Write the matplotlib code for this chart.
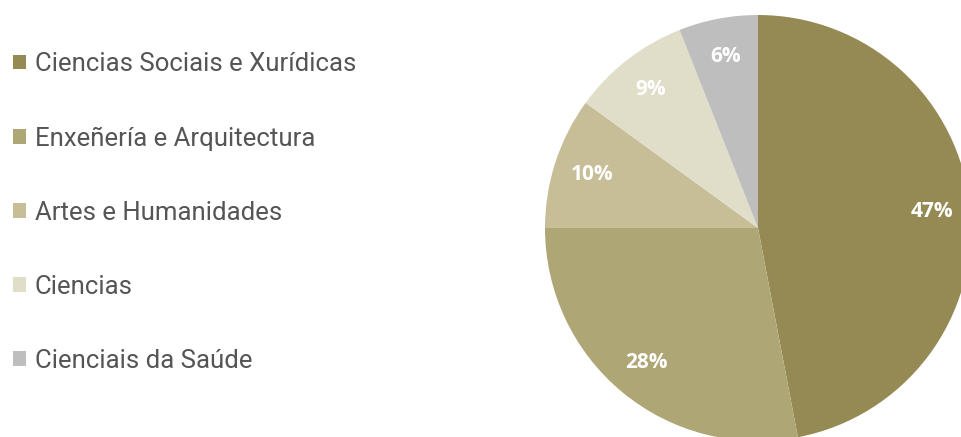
import matplotlib
matplotlib.use("Agg")
import matplotlib.pyplot as plt

# Data
labels = ["Ciencias Sociais e Xurídicas", "Enxeñería e Arquitectura",
          "Artes e Humanidades", "Ciencias", "Cienciais da Saúde"]
shares = [47, 28, 10, 9, 6]
colors = ["#958a54", "#afa675", "#c7be98", "#e0ddc8", "#bebebe"]

fig = plt.figure(figsize=(9.61, 4.37), dpi=100)
fig.patch.set_facecolor("white")

# pie axes placed so the pie is slightly cut off on the right and bottom
ax = fig.add_axes([545 / 961, -4 / 437, 426 / 961, 426 / 437])
wedges, _, autotexts = ax.pie(
    shares, colors=colors, startangle=90, counterclock=False,
    autopct="%d%%", pctdistance=0.82, radius=1,
    wedgeprops=dict(linewidth=0),
    textprops=dict(color="white", fontsize=15, fontweight="bold",
                   family="Open Sans"),
)
ax.set_xlim(-1, 1)
ax.set_ylim(-1, 1)
ax.set_aspect("equal")
ax.axis("off")

# legend on the left
fig.legend(wedges, labels, loc="upper left", bbox_to_anchor=(0.006, 0.898),
           frameon=False, prop=dict(family="Roboto", size=18.5),
           labelcolor="#555555", handlelength=0.5, handleheight=0.5,
           handletextpad=0.32, labelspacing=1.95, borderaxespad=0.1,
           borderpad=0.2)

fig.savefig("out.png", dpi=100)
